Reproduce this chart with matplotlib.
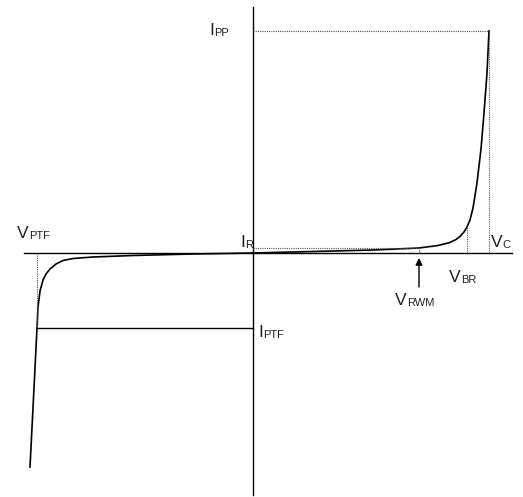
import matplotlib
matplotlib.use("Agg")
import matplotlib.pyplot as plt

plt.rcParams['font.family'] = ['Liberation Sans', 'DejaVu Sans']

# characteristic voltages / currents (same units on both axes)
V_C = 236
V_BR = 214
V_RWM = 166
V_PTF = -216
I_PP = 222
I_R = 5
I_BR = 26
I_PTF = -75

# forward (right) branch of the I-V curve
right_v = [0, 40, 80, 120, 150, 166, 185, 197, 203, 207, 211, 214, 217, 220, 224, 228, 231, 234, 236]
right_i = [0, 1, 2, 3, 4.3, 5, 7.5, 10.5, 13.5, 16.5, 21, 26, 33, 45, 70, 104, 140, 180, 222]

# reverse (left) branch
left_v = [0, -60, -120, -160, -180, -190, -197, -203, -207, -210, -213, -215, -216, -218, -220, -223]
left_i = [0, -1, -2.5, -4, -5.5, -7.5, -11, -16, -21, -27, -38, -54, -75, -115, -155, -214]

fig = plt.figure(figsize=(5.23, 4.97), dpi=100)
ax = fig.add_axes([0, 0, 1, 1])
ax.set_xlim(-253, 270)
ax.set_ylim(-244, 253)
ax.axis('off')

# axes through the origin
ax.plot([-229, 259], [0, 0], color='black', lw=1.0)
ax.plot([0, 0], [-242, 246], color='black', lw=1.0)

ax.plot(right_v, right_i, color='black', lw=1.2)
ax.plot(left_v, left_i, color='black', lw=1.2)

dot = dict(color='#555555', lw=0.8, linestyle=(0, (1, 1)))
ax.plot([0, V_C], [I_PP, I_PP], **dot)
ax.plot([V_C, V_C], [0, I_PP], **dot)
ax.plot([V_BR, V_BR], [0, I_BR], **dot)
ax.plot([0, V_RWM], [I_R, I_R], **dot)
ax.plot([V_RWM, V_RWM], [0, I_R], **dot)
ax.plot([V_PTF, V_PTF], [0, I_PTF], **dot)

# I_PTF level
ax.plot([V_PTF, 0], [I_PTF, I_PTF], color='black', lw=1.0)

# arrow pointing at V_RWM
ax.annotate('', xy=(V_RWM, -5), xytext=(V_RWM, -34),
            arrowprops=dict(arrowstyle='-|>', color='black', lw=1.0,
                            mutation_scale=10, shrinkA=0, shrinkB=0))


def label(x, y, main, sub):
    t = ax.text(x, y, main, fontsize=12.5, color='#222222', va='baseline', ha='left')
    ax.annotate(sub, xy=(1, 0), xycoords=t, fontsize=8, color='#222222',
                va='bottom', ha='left')


label(-44, 218, 'I', 'PP')
label(-13, 6, 'I', 'R')
label(5, -84, 'I', 'PTF')
label(-236, 15, 'V', 'PTF')
label(238, 6, 'V', 'C')
label(196, -29, 'V', 'BR')
label(142, -52, 'V', 'RWM')

fig.savefig('out.png', dpi=100)
